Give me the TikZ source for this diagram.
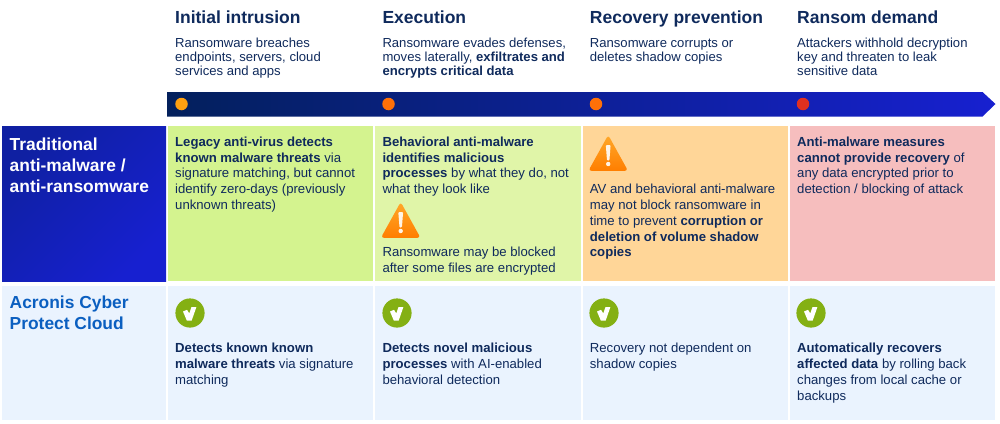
\documentclass[tikz,border=0pt]{standalone}
\usepackage{fontspec}
\setmainfont{Liberation Sans}
\definecolor{ink}{HTML}{0F2A5C}
\definecolor{navy}{HTML}{03205C}
\definecolor{royal}{HTML}{1720D0}
\definecolor{acro}{HTML}{0B5FC0}
\definecolor{cgreen}{HTML}{D4F38F}
\definecolor{clime}{HTML}{E0F5A8}
\definecolor{corange}{HTML}{FFD698}
\definecolor{cred}{HTML}{F6BEBE}
\definecolor{cblue}{HTML}{EAF3FE}
\definecolor{okgreen}{HTML}{84B013}
\definecolor{wtop}{HTML}{FFA82A}
\definecolor{wbot}{HTML}{FF7E00}
\definecolor{dota}{HTML}{FFA010}
\definecolor{dotb}{HTML}{FF7008}
\definecolor{dotc}{HTML}{E03020}
\newcommand{\warnicon}[2]{%
  \begin{scope}[shift={(#1,#2)}]
    \path[top color=wtop, bottom color=wbot, rounded corners=3pt]
      (18.2,-2) -- (38,33.8) -- (-1.6,33.8) -- cycle;
    \fill[white,opacity=.9,rounded corners=1pt] (15.8,8) -- (20.6,8) -- (19.4,23.5) -- (17,23.5) -- cycle;
    \fill[white,opacity=.9] (18.2,27) circle (2.2);
  \end{scope}}
\newcommand{\okicon}[2]{%
  \fill[okgreen] (#1,#2) circle (14.6);
  \fill[white] (#1-7,#2-1.5) -- (#1-3,#2-3.2) -- (#1-.7,#2+.4) -- (#1+1.5,#2-6) -- (#1+6.4,#2-6)
     -- (#1+1.7,#2+7.5) -- (#1-3.2,#2+7.5) -- cycle;}
\tikzset{
  x=1pt,y=-1pt,
  head/.style={anchor=north west,inner sep=0pt,align=left,text=ink,
     font=\fontsize{17.5}{20}\selectfont\bfseries,execute at begin node={\rule{0pt}{13pt}}},
  desc/.style={anchor=north west,inner sep=0pt,align=left,text=ink,
     font=\fontsize{13.1}{14.2}\selectfont,execute at begin node={\rule{0pt}{10pt}}},
  body/.style={anchor=north west,inner sep=0pt,align=left,text=ink,
     font=\fontsize{13.15}{15.8}\selectfont,execute at begin node={\rule{0pt}{10pt}}},
  rowlab/.style={anchor=north west,inner sep=0pt,align=left,
     font=\fontsize{17.4}{21}\selectfont\bfseries,execute at begin node={\rule{0pt}{13pt}}},
  dot/.style={circle,inner sep=0pt,minimum size=12.5pt},
}
\begin{document}
\begin{tikzpicture}
\useasboundingbox (0,0) rectangle (1000,423);
% arrow band
\path[left color=navy,right color=royal] (167,92) -- (982.5,92) -- (995.5,104) -- (982.5,116.5) -- (167,116.5) -- cycle;
% row 1
\path[top color=navy!40!royal,bottom color=royal,shading angle=45] (2,126) rectangle (166,281);
\path[fill=cgreen] (168,126) rectangle (373,281);
\path[fill=clime] (375,126) rectangle (581,281);
\path[fill=corange] (582.5,126) rectangle (788,281);
\path[fill=cred] (789.5,126) rectangle (995,281);
% row 2
\path[fill=cblue] (2,286) rectangle (166,420);
\path[fill=cblue] (168,286) rectangle (373,420);
\path[fill=cblue] (375,286) rectangle (581,420);
\path[fill=cblue] (582.5,286) rectangle (788,420);
\path[fill=cblue] (789.5,286) rectangle (995,420);
% stage dots
\node[dot,fill=dota] (d1) at (181.5,104) {};
\node[dot,fill=dotb] (d2) at (388.5,104) {};
\node[dot,fill=dotb] (d3) at (596,104) {};
\node[dot,fill=dotc] (d4) at (803,104) {};
% headers
\node[head] (h1) at (175,10.5) {Initial intrusion};
\node[head] (h2) at (382.3,10.5) {Execution};
\node[head] (h3) at (589.7,10.5) {Recovery prevention};
\node[head] (h4) at (797,10.5) {Ransom demand};
% descriptions
\node[desc] (t1) at (175,37.5) {Ransomware breaches\\endpoints, servers, cloud\\services and apps};
\node[desc] (t2) at (382.3,37.5) {Ransomware evades defenses,\\moves laterally, \textbf{exfiltrates and}\\\textbf{encrypts critical data}};
\node[desc] (t3) at (589.7,38.3) {Ransomware corrupts or\\deletes shadow copies};
\node[desc] (t4) at (797,37.5) {Attackers withhold decryption\\key and threaten to leak\\sensitive data};
% row labels
\node[rowlab,text=white] (r1) at (9.5,138) {Traditional\\anti-malware /\\anti-ransomware};
\node[rowlab,text=acro] (r2) at (9.5,296) {Acronis Cyber\\Protect Cloud};
% row 1 bodies
\node[body] (a1) at (175,136.5) {\textbf{Legacy anti-virus detects}\\\textbf{known malware threats} via\\signature matching, but cannot\\identify zero-days (previously\\unknown threats)};
\node[body] (a2) at (382.3,136.5) {\textbf{Behavioral anti-malware}\\\textbf{identifies malicious}\\\textbf{processes} by what they do, not\\what they look like};
\node[body] (a2b) at (382.3,247) {Ransomware may be blocked\\after some files are encrypted};
\node[body] (a3) at (589.7,184) {AV and behavioral anti-malware\\may not block ransomware in\\time to prevent \textbf{corruption or}\\\textbf{deletion of volume shadow}\\\textbf{copies}};
\node[body] (a4) at (797,136.5) {\textbf{Anti-malware measures}\\\textbf{cannot provide recovery} of\\any data encrypted prior to\\detection / blocking of attack};
\warnicon{382.5}{204}
\warnicon{590}{137}
% row 2 bodies
\okicon{190}{313}
\okicon{397}{313}
\okicon{604}{313}
\okicon{811}{313}
\node[body] (b1) at (175,343) {\textbf{Detects known known}\\\textbf{malware threats} via signature\\matching};
\node[body] (b2) at (382.3,343) {\textbf{Detects novel malicious}\\\textbf{processes} with AI-enabled\\behavioral detection};
\node[body] (b3) at (589.7,343) {Recovery not dependent on\\shadow copies};
\node[body] (b4) at (797,343) {\textbf{Automatically recovers}\\\textbf{affected data} by rolling back\\changes from local cache or\\backups};
\end{tikzpicture}
\end{document}
